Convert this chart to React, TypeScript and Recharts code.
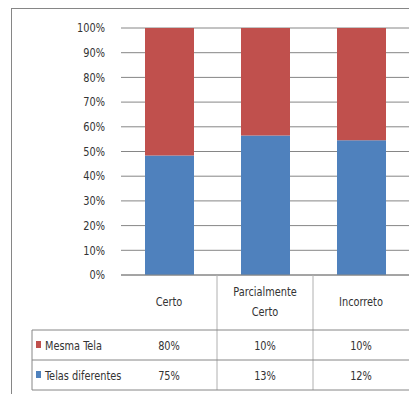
import React from "react";
import { BarChart, Bar, XAxis, YAxis, CartesianGrid } from "recharts";

const categories = ["Certo", "Parcialmente Certo", "Incorreto"];
const mesmaTela = [80, 10, 10];
const telasDiferentes = [75, 13, 12];
const yTicks = [0, 0.1, 0.2, 0.3, 0.4, 0.5, 0.6, 0.7, 0.8, 0.9, 1];

const RED = "#C0504D";
const BLUE = "#4F81BD";
const GRID = "#868686";
const TEXT = "#333333";
const FONT = "'Liberation Sans Narrow', 'DejaVu Sans Condensed', sans-serif";

const data = categories.map((c, i) => ({
  name: c,
  mesma: mesmaTela[i],
  telas: telasDiferentes[i],
}));

const rows = [
  { label: "Mesma Tela", color: RED, values: mesmaTela },
  { label: "Telas diferentes", color: BLUE, values: telasDiferentes },
];

// table rows sit under the axis: header, then one row per series
const HEADER_H = 55;
const ROW_H = 30;
const TABLE_LEFT = 32;

// squeezed text, to get closer to the narrow office font
const NText = ({ x, y, anchor = "start", children }: any) => (
  <text
    transform={`translate(${x},${y}) scale(0.87,1)`}
    textAnchor={anchor}
    dominantBaseline="central"
    fontFamily={FONT}
    fontSize={12.5}
    fill={TEXT}
  >
    {children}
  </text>
);

const YTick = (props: any) => {
  const { x, y, payload } = props;
  return <NText x={x} y={y} anchor="end">{`${Math.round(payload.value * 100)}%`}</NText>;
};

const TableTick = (props: any) => {
  const { x, y, payload, index } = props;
  const half = 48;
  const lines: string[] = payload.value.length > 10 ? payload.value.split(" ") : [payload.value];
  const rowTop = (r: number) => y + HEADER_H + r * ROW_H;
  const left = index === 0 ? TABLE_LEFT : x - half;
  return (
    <g>
      {lines.map((l, k) => (
        <NText key={k} x={x} y={y + 27 + (k - (lines.length - 1) / 2) * 20} anchor="middle">
          {l}
        </NText>
      ))}
      {index < categories.length - 1 && (
        <line x1={x + half} x2={x + half} y1={y} y2={rowTop(rows.length)} stroke="#b0b0b0" />
      )}
      {[0, 1, 2].map((r) => (
        <line key={r} x1={left} x2={x + half} y1={rowTop(r)} y2={rowTop(r)} stroke={GRID} />
      ))}
      {index === 0 && (
        <line x1={TABLE_LEFT} x2={TABLE_LEFT} y1={rowTop(0)} y2={rowTop(rows.length)} stroke={GRID} />
      )}
      {rows.map((row, r) => (
        <g key={row.label}>
          {index === 0 && (
            <>
              <rect x={TABLE_LEFT + 4} y={rowTop(r) + ROW_H / 2 - 4} width={5} height={7} fill={row.color} />
              <NText x={TABLE_LEFT + 13} y={rowTop(r) + ROW_H / 2 + 1}>
                {row.label}
              </NText>
            </>
          )}
          <NText x={x} y={rowTop(r) + ROW_H / 2 + 1} anchor="middle">
            {row.values[index]}%
          </NText>
        </g>
      ))}
    </g>
  );
};

export default function App() {
  return (
    <div style={{ position: "absolute", left: 0, top: 0, width: 409, height: 394, background: "#fff", overflow: "hidden" }}>
      <div
        style={{
          position: "absolute",
          left: 11,
          top: 8,
          width: 420,
          height: 420,
          borderLeft: `1px solid ${GRID}`,
          borderTop: `1px solid ${GRID}`,
        }}
      />
      <BarChart
        width={409}
        height={394}
        data={data}
        stackOffset="expand"
        margin={{ top: 28, right: 0, bottom: 5, left: 0 }}
        style={{ position: "absolute", left: 0, top: 0 }}
      >
        <CartesianGrid vertical={false} stroke={GRID} />
        <YAxis
          width={121}
          ticks={yTicks}
          domain={[0, 1]}
          axisLine={false}
          tickLine={false}
          tickMargin={10}
          tick={<YTick />}
        />
        <XAxis
          dataKey="name"
          height={114}
          axisLine={{ stroke: GRID }}
          tickLine={false}
          tickSize={0}
          tickMargin={0}
          interval={0}
          tick={<TableTick />}
        />
        <Bar dataKey="telas" stackId="a" fill={BLUE} barSize={49} isAnimationActive={false} />
        <Bar dataKey="mesma" stackId="a" fill={RED} barSize={49} isAnimationActive={false} />
      </BarChart>
    </div>
  );
}
